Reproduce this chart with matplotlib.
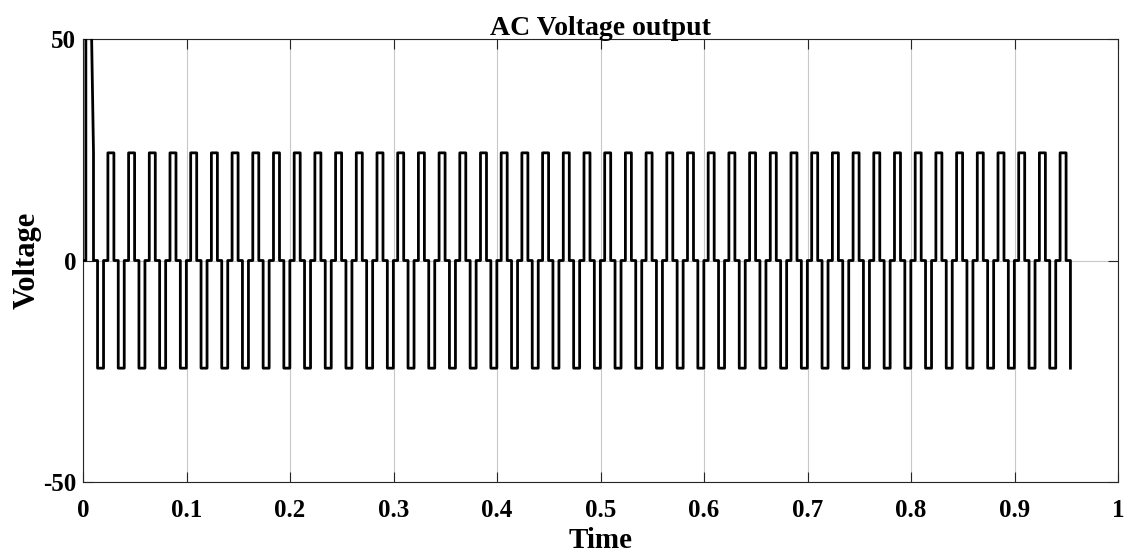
import numpy as np
import matplotlib
matplotlib.use("Agg")
import matplotlib.pyplot as plt

# ---- data ----
amplitude = 24.3                 # level of the square pulses (V)
period = 0.02                    # one full cycle (s)
n_cycles = 47                    # number of regular cycles drawn
# one cycle: negative pulse, zero, positive pulse, zero (times in s)
cycle_t = [0.0140, 0.0140, 0.0198, 0.0198, 0.0240, 0.0240, 0.0298, 0.0298]
cycle_v = [0.0, -1.0, -1.0, 0.0, 0.0, 1.0, 1.0, 0.0]   # in units of amplitude
# start-up transient (goes above the top of the axes)
transient_t = [0.0, 0.0027, 0.0027, 0.0076, 0.0101, 0.0101]
transient_v = [0.0, 0.0, 60.0, 60.0, 24.3, 0.0]
# final edge where the trace stops
end_t = [0.9540, 0.9540]
end_v = [0.0, -24.3]

x_ticks = [0, 0.1, 0.2, 0.3, 0.4, 0.5, 0.6, 0.7, 0.8, 0.9, 1]
x_ticklabels = ['0', '0.1', '0.2', '0.3', '0.4', '0.5', '0.6', '0.7', '0.8', '0.9', '1']
y_ticks = [-50, 0, 50]
y_ticklabels = ['-50', '0', '50']

# ---- assemble the trace ----
t = list(transient_t)
v = list(transient_v)
for k in range(n_cycles):
    t += [ct + k * period for ct in cycle_t]
    v += [cv * amplitude for cv in cycle_v]
t += end_t
v += end_v

plt.rcParams['font.family'] = ['Liberation Serif', 'DejaVu Serif']
plt.rcParams['font.weight'] = 'bold'

fig = plt.figure(figsize=(11.33, 5.57), dpi=100)
ax = fig.add_axes([0.0733, 0.1346, 0.9135, 0.7954])

ax.plot(t, v, color='black', lw=2.0, solid_joinstyle='round', zorder=3)

ax.set_xlim(0, 1)
ax.set_ylim(-50, 50)
ax.set_xticks(x_ticks)
ax.set_xticklabels(x_ticklabels)
ax.set_yticks(y_ticks)
ax.set_yticklabels(y_ticklabels)

ax.grid(True, color='#c8c8c8', lw=0.8, zorder=0)
ax.tick_params(direction='in', length=7, width=0.8, color='#262626',
               top=True, right=True, labelsize=18)
ax.tick_params(axis='x', pad=12)
ax.tick_params(axis='y', pad=5)
for lab in ax.get_xticklabels() + ax.get_yticklabels():
    lab.set_fontweight('bold')
for s in ax.spines.values():
    s.set_color('#262626')
    s.set_linewidth(0.8)

ax.set_title('AC Voltage output', fontsize=20, fontweight='bold', pad=3)
ax.set_xlabel('Time', fontsize=21, fontweight='bold', labelpad=4)
ax.set_ylabel('Voltage', fontsize=22, fontweight='bold', labelpad=1)

fig.savefig('out.png', dpi=100)
